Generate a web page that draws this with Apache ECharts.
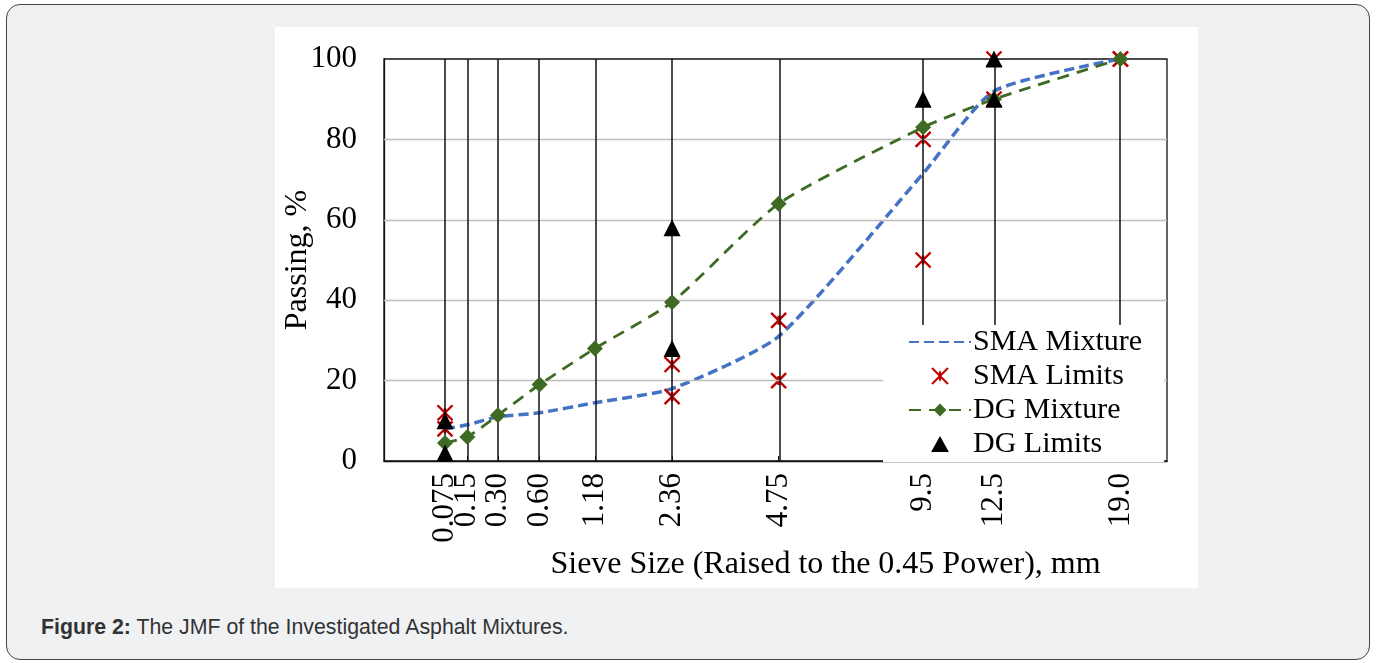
<!DOCTYPE html>
<html>
<head>
<meta charset="utf-8">
<script src="https://cdn.jsdelivr.net/npm/echarts@6/dist/echarts.min.js"></script>
<style>
  html, body { margin: 0; padding: 0; background: #fff; }
  body { width: 1377px; height: 663px; position: relative; overflow: hidden; }
  .card {
    position: absolute; left: 6px; top: 4px; width: 1362px; height: 654px;
    border: 1.5px solid #444; border-radius: 14px; background: #f0f1f3;
  }
  #chart { position: absolute; left: 275px; top: 27px; width: 923px; height: 561px; background: #fff; }
  .caption {
    position: absolute; left: 41px; top: 615px;
    font-family: "Liberation Sans", Arial, sans-serif; font-size: 21.3px; color: #333;
  }
  .caption b { font-weight: bold; }
</style>
</head>
<body>
<div class="card"></div>
<div id="chart"></div>
<div class="caption"><b>Figure 2:</b> The JMF of the Investigated Asphalt Mixtures.</div>
<script>
// ── DATA ───────────────────────────────────────────
const sieveSizes  = [0.075, 0.15, 0.30, 0.60, 1.18, 2.36, 4.75, 9.5, 12.5, 19.0];
const sieveLabels = ['0.075', '0.15', '0.30', '0.60', '1.18', '2.36', '4.75', '9.5', '12.5', '19.0'];

const smaMixture = [8, 9, 11, 12, 14.5, 18, 31, 71.5, 92, 100];
const dgMixture  = [4.5, 6, 11.4, 19, 28, 39.5, 64, 83, 90, 100];

const smaLimitSizes  = [0.075, 0.075, 2.36, 2.36, 4.75, 4.75, 9.5, 9.5, 12.5, 12.5, 19.0, 19.0];
const smaLimitValues = [12, 8, 24, 16, 35, 20, 80, 50, 100, 90, 100, 100];

const dgLimitSizes  = [0.075, 0.075, 2.36, 2.36, 9.5, 12.5, 12.5];
const dgLimitValues = [10, 2, 58, 28, 90, 100, 90];

const yGridValues = [20, 40, 60, 80];

// x is sieve size raised to the 0.45 power
const pw = s => Math.pow(s, 0.45);
const sievePos = sieveSizes.map(pw);
const pairs = (xs, ys) => xs.map((s, i) => [pw(s), ys[i]]);
// labels split over two overlaid axes so the crowded ones are not hidden
const posEven = sievePos.filter((p, i) => i % 2 === 0);
const posOdd  = sievePos.filter((p, i) => i % 2 === 1);

// nearest sieve label for an axis value
function sieveLabel(v) {
  let best = 0;
  sievePos.forEach((p, i) => { if (Math.abs(p - v) < Math.abs(sievePos[best] - v)) best = i; });
  return sieveLabels[best];
}

const FONT = '"Liberation Serif", "Times New Roman", serif';
const starPath = 'path://M0,0L10,10M10,0L0,10M5,2L5,8';
const triPath  = 'path://M5,0L10,9L0,9Z';

const labelStyle = {
  hideOverlap: false, showMinLabel: true, showMaxLabel: true,
  rotate: 90, margin: 12,
  fontFamily: FONT, fontSize: 31, color: '#000',
  formatter: v => sieveLabel(v),
};

const chart = echarts.init(document.getElementById('chart'));

chart.setOption({
  backgroundColor: '#fff',
  animation: false,
  grid: {
    left: 109, right: 31, top: 32, bottom: 127,
    outerBoundsMode: 'none',
    containLabel: false,
    show: true, borderColor: '#111', borderWidth: 1.3, backgroundColor: 'transparent',
  },
  legend: {
    orient: 'vertical',
    left: 608, top: 298,
    backgroundColor: '#fff',
    padding: [2, 22, 3, 25],
    itemGap: 4,
    itemWidth: 62, itemHeight: 16,
    textStyle: { fontFamily: FONT, fontSize: 30, color: '#000', lineHeight: 30, padding: [0, 0, 0, -3] },
    data: [
      { name: 'SMA Mixture', itemStyle: { opacity: 0 } },
      'SMA Limits', 'DG Mixture', 'DG Limits',
    ],
    z: 10,
  },
  xAxis: [
    {
      type: 'value', min: 0, max: 4, position: 'bottom',
      axisLine: { show: true, lineStyle: { color: '#111', width: 1.3 } },
      axisTick: { show: true, inside: true, length: 5, customValues: sievePos, lineStyle: { color: '#111' } },
      splitLine: { show: false },
      axisLabel: Object.assign({ customValues: posEven }, labelStyle),
      name: 'Sieve Size (Raised to the 0.45 Power), mm',
      nameLocation: 'middle', nameGap: 88, nameMoveOverlap: false,
      nameTextStyle: { fontFamily: FONT, fontSize: 32, color: '#000', padding: [0, 0, 0, 100] },
    },
    {
      type: 'value', min: 0, max: 4, position: 'bottom', offset: 0,
      axisLine: { show: false },
      axisTick: { show: false },
      splitLine: { show: false },
      axisLabel: Object.assign({ customValues: posOdd }, labelStyle),
    },
  ],
  yAxis: {
    type: 'value', min: 0, max: 100, interval: 20,
    axisLine: { show: true, lineStyle: { color: '#111', width: 1.3 } },
    axisTick: { show: false },
    splitLine: { show: false },
    axisLabel: { fontFamily: FONT, fontSize: 31, color: '#000', margin: 27 },
    name: 'Passing, %',
    nameLocation: 'middle', nameGap: 70, nameMoveOverlap: false,
    nameTextStyle: { fontFamily: FONT, fontSize: 32, color: '#000' },
  },
  series: [
    {
      // gridlines only
      name: 'grid', type: 'line', data: [], z: 1, silent: true,
      markLine: {
        silent: true, symbol: 'none', animation: false,
        label: { show: false },
        data: [
          ...yGridValues.map(v => ({ yAxis: v, lineStyle: { color: '#bdbdbd', width: 1.3, type: 'solid' } })),
          ...sievePos.map(p => ({ xAxis: p, lineStyle: { color: '#111', width: 1.5, type: 'solid' } })),
        ],
      },
    },
    {
      name: 'SMA Mixture', type: 'line', z: 3,
      data: pairs(sieveSizes, smaMixture),
      symbol: 'none', smooth: 0.2,
      lineStyle: { color: '#4472c4', width: 3.5, type: [10, 5] },
      itemStyle: { color: '#4472c4' },
    },
    {
      name: 'SMA Limits', type: 'scatter', z: 4,
      data: pairs(smaLimitSizes, smaLimitValues),
      symbol: starPath, symbolSize: 15,
      itemStyle: { color: 'none', borderColor: '#c00000', borderWidth: 2.4, opacity: 1 },
    },
    {
      name: 'DG Mixture', type: 'line', z: 5,
      data: pairs(sieveSizes, dgMixture),
      symbol: 'diamond', symbolSize: 16, showSymbol: true, smooth: 0.2,
      lineStyle: { color: '#3f6a23', width: 2.8, type: [12, 8] },
      itemStyle: { color: '#3f6a23' },
    },
    {
      name: 'DG Limits', type: 'scatter', z: 6,
      data: pairs(dgLimitSizes, dgLimitValues),
      symbol: triPath, symbolSize: 17,
      itemStyle: { color: '#000', opacity: 1 },
    },
  ],
});
</script>
</body>
</html>
